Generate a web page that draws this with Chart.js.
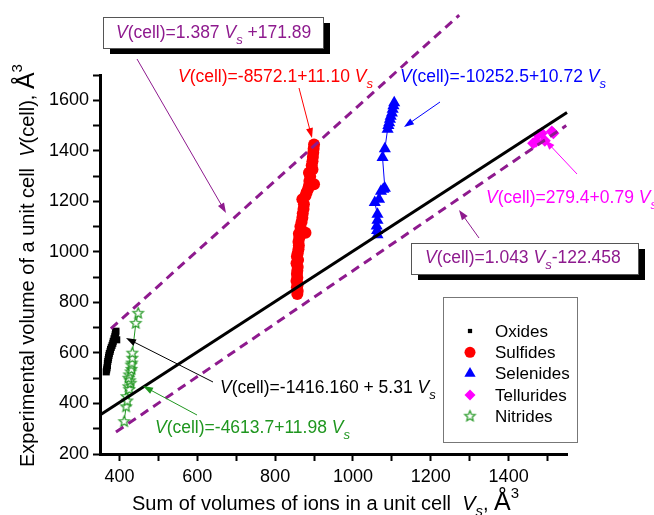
<!DOCTYPE html>
<html>
<head>
<meta charset="utf-8">
<script src="https://cdn.jsdelivr.net/npm/chart.js@4.4.1/dist/chart.umd.min.js"></script>
<style>
  html, body { margin: 0; padding: 0; background: #fff; }
  canvas { display: block; }
</style>
</head>
<body>
<canvas id="vcell" width="654" height="515"></canvas>
<script>
// Measured points: sum of ionic volumes Vs vs. experimental cell volume V(cell)
const oxidesVs = [366, 367, 368, 369, 369, 370, 371, 372, 373, 374, 376, 377, 379, 381, 383, 384, 393, 386, 388, 389, 390, 391];
const oxidesV  = [525, 533, 541, 550, 558, 566, 574, 582, 590, 598, 606, 614, 622, 630, 638, 646, 652, 656, 664, 672, 680, 686];

const sulfidesVs = [857, 858, 856, 858, 855, 857, 856, 857, 858, 855, 859, 856, 858, 860, 861, 860, 862, 861, 878, 866, 865, 868, 870, 871, 873, 874, 870, 878, 881, 885, 887, 900, 888, 890, 887, 896, 894, 896, 897, 898, 899, 900];
const sulfidesV  = [833, 845, 860, 872, 885, 898, 912, 925, 940, 955, 968, 982, 995, 1010, 1025, 1040, 1055, 1072, 1076, 1082, 1100, 1118, 1135, 1152, 1170, 1188, 1208, 1222, 1236, 1250, 1262, 1268, 1280, 1298, 1313, 1326, 1342, 1359, 1375, 1392, 1408, 1425];

const selenidesVs = [1063, 1062, 1061, 1063, 1063, 1056, 1067, 1072, 1078, 1082, 1076, 1082, 1089, 1091, 1093, 1095, 1097, 1100, 1102, 1104, 1106];
const selenidesV  = [1068, 1085, 1102, 1125, 1149, 1195, 1208, 1240, 1248, 1252, 1373, 1408, 1485, 1500, 1511, 1525, 1537, 1550, 1564, 1578, 1590];

const telluridesVs = [1463, 1470, 1476, 1485, 1493, 1511, 1515];
const telluridesV  = [1430, 1436, 1463, 1469, 1440, 1476, 1469];

const nitridesVs = [412, 417, 418, 420, 423, 425, 429, 427, 423, 425, 429, 431, 430, 432, 433, 433, 442, 448];
const nitridesV  = [328, 387, 427, 410, 466, 455, 480, 490, 500, 513, 525, 535, 552, 560, 579, 599, 717, 757];

// Reference lines: V = Vs, and the upper / lower bounds
const identityVs = [350, 1550];
const identityV  = [354, 1552];
const upperVs = [378, 1273];
const upperV  = [696, 1937];
const lowerVs = [391, 1548];
const lowerV  = [287, 1500];

const xTickValues = [400, 500, 600, 700, 800, 900, 1000, 1100, 1200, 1300, 1400, 1500];
const yTickValues = [200, 300, 400, 500, 600, 700, 800, 900, 1000, 1100, 1200, 1300, 1400, 1500, 1600, 1700];

const PURPLE = '#8e1a8e';
const GREEN = '#1f961f';
const FONT = '"Liberation Sans", Arial, sans-serif';

const pts = (xs, ys) => xs.map((x, i) => ({ x, y: ys[i] }));

function makeStar(r, color) {
  const c = document.createElement('canvas');
  const s = Math.ceil(r * 2 + 4);
  c.width = c.height = s;
  const g = c.getContext('2d');
  g.beginPath();
  for (let i = 0; i < 10; i++) {
    const rad = i % 2 ? r * 0.45 : r;
    const a = -Math.PI / 2 + i * Math.PI / 5;
    g.lineTo(s / 2 + rad * Math.cos(a), s / 2 + rad * Math.sin(a));
  }
  g.closePath();
  g.fillStyle = '#fff';
  g.fill();
  g.strokeStyle = color;
  g.lineWidth = 1.2;
  g.stroke();
  return c;
}
const star = makeStar(5.5, GREEN);

const series = [
  { label: 'Oxides', data: pts(oxidesVs, oxidesV), color: '#000', pointStyle: 'rect', radius: 5, line: false },
  { label: 'Sulfides', data: pts(sulfidesVs, sulfidesV), color: '#ff0000', pointStyle: 'circle', radius: 6, line: false },
  { label: 'Selenides', data: pts(selenidesVs, selenidesV), color: '#0000ff', pointStyle: 'triangle', radius: 7, line: true },
  { label: 'Tellurides', data: pts(telluridesVs, telluridesV), color: '#ff00ff', pointStyle: 'rectRot', radius: 6, line: false },
  { label: 'Nitrides', data: pts(nitridesVs, nitridesV), color: GREEN, pointStyle: star, radius: 5.5, line: true },
];

const lineSets = [
  { data: pts(identityVs, identityV), borderColor: '#000', borderWidth: 3, borderDash: [] },
  { data: pts(upperVs, upperV), borderColor: PURPLE, borderWidth: 3, borderDash: [9, 6] },
  { data: pts(lowerVs, lowerV), borderColor: PURPLE, borderWidth: 3, borderDash: [9, 6] },
];

// equation label: italic V(cell)=... italic V with subscript s
function eq(mid, tail) {
  return [{ t: 'V', it: true }, { t: mid }, { t: 'V', it: true }, { t: 's', it: true, sub: true }, { t: tail || '' }];
}

const notes = [
  { parts: eq('(cell)=1.387 ', ' +171.89'), color: PURPLE, x: 116, y: 38, box: [103, 17, 220, 31], arrow: [137, 59, 226, 213] },
  { parts: eq('(cell)=1.043 ', '-122.458'), color: PURPLE, x: 425, y: 263, box: [411, 243, 227, 31], arrow: [479, 238, 459, 210] },
  { parts: eq('(cell)=-8572.1+11.10 '), color: '#ff0000', x: 178, y: 82, arrow: [299, 88, 312, 138] },
  { parts: eq('(cell)=-10252.5+10.72 '), color: '#0000ff', x: 400, y: 82, arrow: [440, 102, 404, 127] },
  { parts: eq('(cell)=279.4+0.79 '), color: '#ff00ff', x: 486, y: 203, arrow: [577, 174, 545, 140] },
  { parts: eq('(cell)=-1416.160 + 5.31 '), color: '#000', x: 220, y: 393, arrow: [213, 382, 126, 338] },
  { parts: eq('(cell)=-4613.7+11.98 '), color: GREEN, x: 155, y: 433, arrow: [197, 415, 143, 386] },
];

const xTitle = [{ t: 'Sum of volumes of ions in a unit cell  ' }, { t: 'V', it: true }, { t: 's', it: true, sub: true }, { t: ', ' }, { t: 'Å', size: 25 }, { t: '3', sup: true }];
const yTitle = [{ t: 'Experimental volume of a unit cell  ' }, { t: 'V', it: true }, { t: '(cell), ' }, { t: 'Å', size: 25 }, { t: '3', sup: true }];

function drawRich(ctx, parts, x, y, base, color) {
  ctx.fillStyle = color;
  ctx.textBaseline = 'alphabetic';
  ctx.textAlign = 'left';
  for (const p of parts) {
    const size = p.size || (p.sub || p.sup ? base * 0.75 : base);
    ctx.font = (p.it ? 'italic ' : '') + size + 'px ' + FONT;
    const dy = p.sub ? base * 0.32 : p.sup ? -base * 0.6 : 0;
    ctx.fillText(p.t, x, y + dy);
    x += ctx.measureText(p.t).width;
  }
}

function drawArrow(ctx, x1, y1, x2, y2, color) {
  const a = Math.atan2(y2 - y1, x2 - x1);
  ctx.strokeStyle = color;
  ctx.fillStyle = color;
  ctx.lineWidth = 1;
  ctx.setLineDash([]);
  ctx.beginPath();
  ctx.moveTo(x1, y1);
  ctx.lineTo(x2 - 6 * Math.cos(a), y2 - 6 * Math.sin(a));
  ctx.stroke();
  ctx.beginPath();
  ctx.moveTo(x2, y2);
  ctx.lineTo(x2 - 10 * Math.cos(a) + 3.5 * Math.sin(a), y2 - 10 * Math.sin(a) - 3.5 * Math.cos(a));
  ctx.lineTo(x2 - 10 * Math.cos(a) - 3.5 * Math.sin(a), y2 - 10 * Math.sin(a) + 3.5 * Math.cos(a));
  ctx.closePath();
  ctx.fill();
}

// white framed box with a heavy drop shadow along right and bottom
function shadowBox(ctx, bx, by, bw, bh) {
  ctx.fillStyle = '#000';
  ctx.fillRect(bx + bw, by + 6, 7, bh);
  ctx.fillRect(bx + 7, by + bh, bw, 6);
  ctx.fillStyle = '#fff';
  ctx.fillRect(bx, by, bw, bh);
  ctx.lineWidth = 1;
  ctx.strokeStyle = '#555';
  ctx.strokeRect(bx + 0.5, by + 0.5, bw, bh);
}

const annotations = {
  id: 'annotations',
  afterDraw(chart) {
    const ctx = chart.ctx;
    ctx.save();
    ctx.setLineDash([]);
    for (const n of notes) {
      if (n.box) shadowBox(ctx, n.box[0], n.box[1], n.box[2], n.box[3]);
      drawRich(ctx, n.parts, n.x, n.y, 17.5, n.color);
      const [x1, y1, x2, y2] = n.arrow;
      drawArrow(ctx, x1, y1, x2, y2, n.color);
    }

    // legend box
    ctx.fillStyle = '#fff';
    ctx.fillRect(443, 297, 134, 145);
    ctx.strokeStyle = '#777';
    ctx.lineWidth = 1;
    ctx.strokeRect(443.5, 297.5, 134, 145);
    series.forEach((s, i) => {
      const y = 331 + i * 21.3;
      ctx.fillStyle = s.color;
      ctx.strokeStyle = s.color;
      const r = s.label === 'Oxides' ? 3 : s.radius - 0.5;
      Chart.helpers.drawPoint(ctx, { pointStyle: s.pointStyle, radius: r, borderWidth: 0, rotation: 0 }, 470, y);
      ctx.fillStyle = '#000';
      ctx.font = '17px ' + FONT;
      ctx.textBaseline = 'middle';
      ctx.fillText(s.label, 495, y + 1);
    });

    // axis titles
    drawRich(ctx, xTitle, 132, 510, 20, '#000');
    ctx.translate(34, 467);
    ctx.rotate(-Math.PI / 2);
    drawRich(ctx, yTitle, 0, 0, 20, '#000');
    ctx.restore();
  }
};

const datasets = lineSets.map(l => ({
  data: l.data,
  showLine: true,
  borderColor: l.borderColor,
  borderWidth: l.borderWidth,
  borderDash: l.borderDash,
  pointRadius: 0,
  clip: false,
})).concat(series.map(s => ({
  label: s.label,
  data: s.data,
  showLine: s.line,
  borderColor: s.color,
  borderWidth: 1,
  backgroundColor: s.color,
  pointBackgroundColor: s.color,
  pointBorderColor: s.color,
  pointBorderWidth: 0,
  pointStyle: s.pointStyle,
  pointRadius: s.radius,
})));

const tickFont = { family: FONT, size: 18 };

new Chart(document.getElementById('vcell'), {
  type: 'scatter',
  data: { datasets },
  plugins: [annotations],
  options: {
    responsive: false,
    animation: false,
    devicePixelRatio: 1,
    layout: { padding: { top: 75, right: 87, left: 0, bottom: 0 } },
    plugins: { legend: { display: false }, tooltip: { enabled: false } },
    scales: {
      x: {
        type: 'linear',
        min: 350,
        max: 1550,
        afterBuildTicks: s => { s.ticks = xTickValues.map(v => ({ value: v })); },
        afterFit: s => { s.height = 61; },
        ticks: { font: tickFont, color: '#000', padding: 5, maxRotation: 0, autoSkip: false,
          callback: v => (v % 200 === 0 ? String(v) : '') },
        grid: { drawOnChartArea: false, tickLength: 7, tickWidth: 2, tickColor: '#000' },
        border: { color: '#000', width: 3 },
      },
      y: {
        type: 'linear',
        min: 200,
        max: 1700,
        afterBuildTicks: s => { s.ticks = yTickValues.map(v => ({ value: v })); },
        afterFit: s => { s.width = 100; },
        ticks: { font: tickFont, color: '#000', padding: 4, autoSkip: false,
          callback: v => (v % 200 === 0 ? String(v) : '') },
        grid: { drawOnChartArea: false, tickLength: 7, tickWidth: 2, tickColor: '#000' },
        border: { color: '#000', width: 3 },
      },
    },
  },
});
</script>
</body>
</html>
